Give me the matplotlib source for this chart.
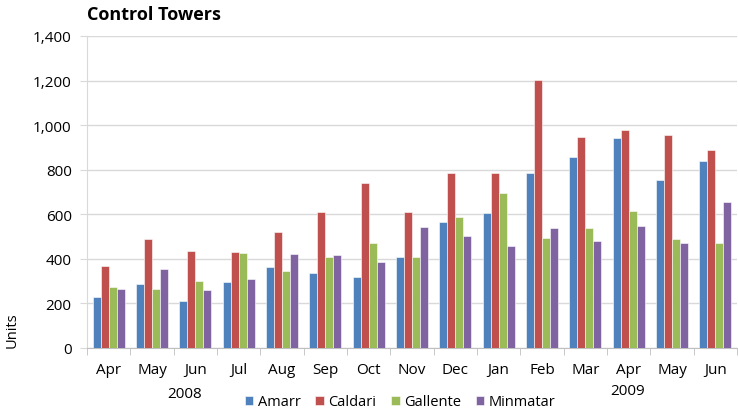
import numpy as np
import matplotlib.pyplot as plt

months = ['Apr', 'May', 'Jun', 'Jul', 'Aug', 'Sep', 'Oct', 'Nov',
          'Dec', 'Jan', 'Feb', 'Mar', 'Apr', 'May', 'Jun']
amarr = [228, 287, 212, 294, 364, 336, 319, 407, 566, 604, 784, 855, 943, 752, 839]
caldari = [369, 490, 436, 431, 521, 609, 739, 609, 785, 787, 1204, 948, 979, 954, 888]
gallente = [273, 266, 299, 425, 346, 409, 473, 407, 587, 694, 494, 537, 616, 491, 469]
minmatar = [266, 354, 261, 309, 422, 418, 387, 543, 504, 458, 539, 478, 549, 472, 654]

series = ['Amarr', 'Caldari', 'Gallente', 'Minmatar']
colors = ['#4F81BD', '#C0504D', '#9BBB59', '#8064A2']

plt.rcParams['font.family'] = ['Open Sans', 'DejaVu Sans']

fig = plt.figure(figsize=(7.38, 4.14), dpi=100)
ax = fig.add_axes([87 / 738, 65 / 414, 650 / 738, 312 / 414])

x = np.arange(len(months))
w = 0.185
for i, (name, vals) in enumerate(zip(series, [amarr, caldari, gallente, minmatar])):
    ax.bar(x + (i - 1.5) * w, vals, width=w, color=colors[i], label=name,
           edgecolor='#ffffff', linewidth=0.4, zorder=3)

ax.set_xlim(-0.5, len(months) - 0.5)
ax.set_ylim(0, 1400)
ax.set_yticks(range(0, 1401, 200))
ax.set_yticklabels([f'{v:,}' for v in range(0, 1401, 200)], fontsize=11)
ax.yaxis.grid(True, color='#d9d9d9', linewidth=1, zorder=0)

ax.set_xticks(x)
ax.set_xticklabels(months, fontsize=11)
ax.tick_params(axis='x', length=0, pad=10)
ax.set_xticks(np.arange(-0.5, len(months), 1), minor=True)
ax.tick_params(axis='x', which='minor', length=5, color='#bfbfbf')
ax.tick_params(axis='y', length=5, color='#d9d9d9', pad=6)

for s in ['top', 'right']:
    ax.spines[s].set_visible(False)
ax.spines['left'].set_color('#d9d9d9')
ax.spines['bottom'].set_color('#bfbfbf')

fig.text(87 / 738, 1 - 15 / 414, 'Control Towers', fontsize=13, fontweight='bold',
         ha='left', va='center')
fig.text(12 / 738, 1 - 330 / 414, 'Units', fontsize=10.5, rotation=90,
         ha='center', va='center')
fig.text(185 / 738, 1 - 395 / 414, '2008', fontsize=11, ha='center', va='center')
fig.text(628 / 738, 1 - 392 / 414, '2009', fontsize=11, ha='center', va='center')

fig.legend(loc='center', bbox_to_anchor=(400 / 738, 1 - 403 / 414), ncol=4,
           frameon=False, fontsize=10.5, handlelength=0.6, handleheight=0.6,
           handletextpad=0.3, columnspacing=1.0)

fig.savefig('out.png', dpi=100)
